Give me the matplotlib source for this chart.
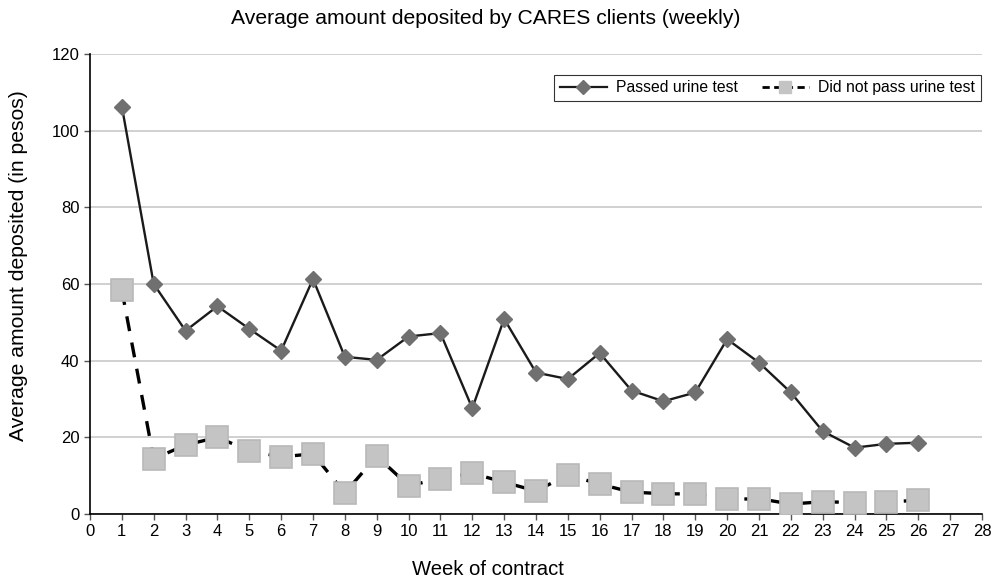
import matplotlib
matplotlib.use("Agg")
import matplotlib.pyplot as plt
import numpy as np

plt.rcParams['font.family'] = ['Liberation Sans', 'DejaVu Sans']

weeks = np.arange(1, 27)
passed = [106.3, 60.0, 47.8, 54.2, 48.3, 42.6, 61.3, 41.0, 40.2, 46.3,
          47.2, 27.6, 50.9, 36.9, 35.2, 42.0, 32.2, 29.4, 31.7, 45.6,
          39.5, 31.7, 21.6, 17.3, 18.3, 18.6]
not_passed = [58.4, 14.4, 18.0, 20.0, 16.5, 14.9, 15.7, 5.5, 15.1, 7.4,
              9.2, 10.6, 8.3, 6.0, 10.2, 7.8, 5.7, 5.3, 5.2, 3.8,
              4.0, 2.6, 3.2, 3.0, 3.1, 3.6]

fig = plt.figure(figsize=(9.96, 5.8), dpi=100)
ax = fig.add_axes([90/996, 1-514/580, 892/996, 460/580])

# dashed line sits under the big square markers
ax.plot(weeks, not_passed, color='black', lw=2.4, ls=(0, (4.5, 3.5)), zorder=2)
ax.plot(weeks, not_passed, ls='none', marker='s', ms=16.5,
        mfc='#c4c4c4', mec='#b9b9b9', mew=1.2, zorder=3)
ax.plot(weeks, passed, color='#1a1a1a', lw=1.7, marker='D', ms=8.5,
        mfc='#707070', mec='#707070', zorder=4)

# legend handles
h1, = ax.plot([], [], color='#1a1a1a', lw=1.6, marker='D', ms=7,
              mfc='#707070', mec='#707070')
h2, = ax.plot([], [], color='black', lw=2.0, ls=(0, (2.6, 1.6)), marker='s', ms=8,
              mfc='#c4c4c4', mec='#c4c4c4')
leg = ax.legend([h1, h2], ['Passed urine test', 'Did not pass urine test'],
                loc='upper right', bbox_to_anchor=(0.9985, 0.955), ncol=2,
                fontsize=11.3, frameon=True, fancybox=False, handlelength=3.0,
                columnspacing=1.5, handletextpad=0.6, borderpad=0.35,
                borderaxespad=0)
leg.get_frame().set_edgecolor('black')
leg.get_frame().set_linewidth(0.8)

ax.set_xlim(0, 28)
ax.set_ylim(0, 120)
ax.set_xticks(range(0, 29))
ax.set_yticks(range(0, 121, 20))
ax.yaxis.grid(True, color='#c8c8c8', lw=1.2)
ax.set_axisbelow(True)
for s in ['top', 'right']:
    ax.spines[s].set_visible(False)
for s in ['left', 'bottom']:
    ax.spines[s].set_linewidth(1.2)
ax.tick_params(axis='both', labelsize=12, length=4, width=1.0,
               direction='out', color='#555555')

ax.set_xlabel('Week of contract', fontsize=14.6)
ax.set_ylabel('Average amount deposited (in pesos)', fontsize=15.2)
ax.xaxis.set_label_coords(0.446, -0.100)
ax.yaxis.set_label_coords(-0.069, 0.541)
fig.text(486/996, 1-18/580, 'Average amount deposited by CARES clients (weekly)',
         fontsize=15.2, ha='center', va='center')

fig.savefig('out.png', dpi=100)
